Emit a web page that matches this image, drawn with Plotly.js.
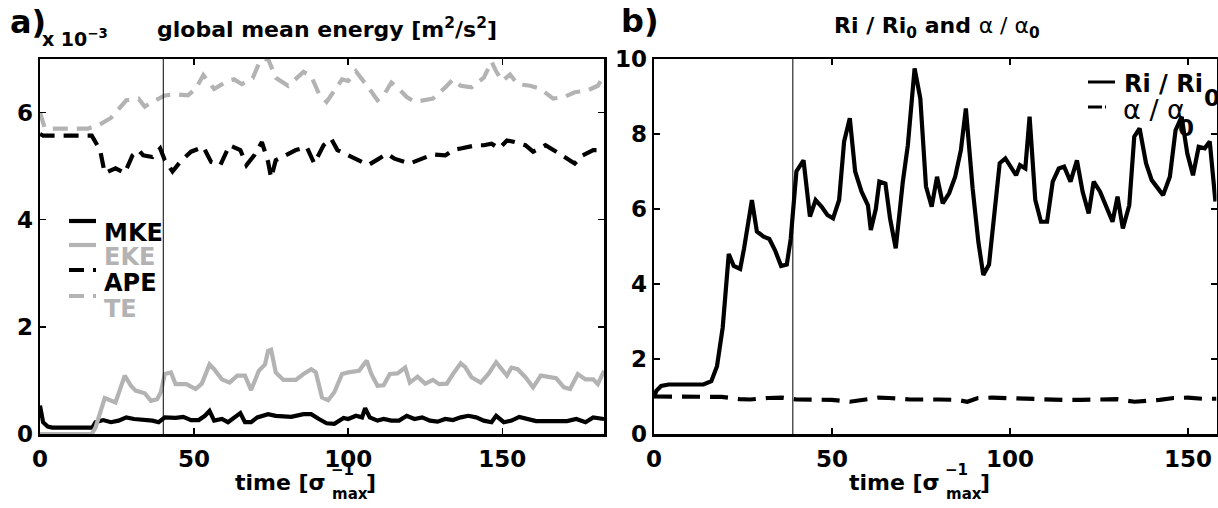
<!DOCTYPE html>
<html>
<head>
<meta charset="utf-8">
<script src="https://cdn.plot.ly/plotly-3.0.1.min.js"></script>
<style>html,body{margin:0;padding:0;background:#fff;}#chart{width:1218px;height:508px;}</style>
</head>
<body>
<div id="chart"></div>
<script>
// ---------- data (panel a: energies, units 1e-3 m^2/s^2) ----------
const mkeTime = [0,1,2.5,4,17,18,20.5,23,25.5,28,30.5,34,36.5,38.5,40.5,44,46.5,49,51.5,53.5,55,56.5,59,61,63,65,66.5,68.5,70.5,74,76.5,81.5,85.5,88,90.5,93,95.5,98.5,100,102.5,104.5,105.5,107,109.5,111.5,114,116.5,119,121.5,124,126.5,129,131.5,134,136.5,139,141.5,144,146.5,148,150.5,153,155.5,158,161,166,171,174,177,179.5,183];
const mkeVal = [0.53,0.22,0.14,0.12,0.12,0.22,0.26,0.22,0.25,0.31,0.28,0.27,0.25,0.22,0.31,0.30,0.32,0.26,0.26,0.34,0.43,0.25,0.28,0.22,0.31,0.39,0.22,0.22,0.31,0.37,0.34,0.32,0.37,0.37,0.28,0.20,0.19,0.30,0.28,0.34,0.31,0.48,0.31,0.25,0.28,0.25,0.25,0.34,0.28,0.31,0.25,0.23,0.28,0.26,0.31,0.34,0.31,0.25,0.22,0.34,0.22,0.25,0.32,0.28,0.24,0.24,0.24,0.28,0.22,0.31,0.28];

const ekeTime = [0,16.8,18,21,24.5,27.5,29.5,31,34,36,38,39.2,40.5,42.5,44,47.5,50.5,52.5,55,56.5,59,61.5,64,66.5,68.5,71,73,74,75,76.5,79,83,85.5,88,89.5,91.5,93.5,95.5,98,100,103.5,106,107.5,109.5,111.5,113.5,116,118.5,120,122.5,125,127.5,129.5,132,134,136.5,138,140,143,145.5,148,151.5,153,155,157.5,160,162.5,165,167.5,170,172,174.5,177,179.5,181,183];
const ekeVal = [0,0,0.12,0.67,0.59,1.09,0.90,0.81,0.76,0.62,0.65,0.78,1.12,1.15,0.93,0.93,0.84,0.94,1.30,1.21,1.02,0.96,1.09,1.09,0.82,1.18,1.30,1.55,1.57,1.15,1.01,1.01,1.12,1.21,1.15,0.68,0.63,0.78,1.12,1.15,1.18,1.37,1.12,0.90,0.91,1.12,1.13,1.24,0.96,1.07,0.94,1.01,0.93,0.94,1.12,1.32,1.25,1.06,0.96,1.12,1.34,1.09,1.24,1.21,1.06,0.87,1.09,1.06,1.04,0.87,0.84,1.12,1.02,1.02,0.93,1.18];

const apeTime = [0,1,16.8,18,19.5,21,24.5,27.5,30,32,33.5,36.5,39,40.5,43,45.5,49,53,55.5,58.5,61.5,65,67,69.5,72,74,75,76.5,79.5,83,86.5,89,92,94.5,96.5,100,104,106.5,110,112.5,115,120,124,127.5,131.5,134,136.5,139,141.5,144,146.5,149,151.5,154,157.5,160,164,167.5,171,173.5,176,179.5,183];
const apeVal = [5.6,5.57,5.57,5.45,5.30,4.87,4.96,4.87,5.20,5.30,5.20,5.17,5.33,5.11,4.90,5.08,5.27,5.36,5.08,5.02,5.39,5.30,5.02,5.20,5.45,5.08,4.78,5.11,5.20,5.30,5.36,5.05,5.39,5.51,5.30,5.20,5.08,5.02,5.14,5.23,5.14,5.05,5.14,5.22,5.20,5.30,5.33,5.36,5.39,5.39,5.42,5.33,5.48,5.45,5.39,5.27,5.39,5.27,5.14,5.05,5.20,5.30,5.30];

const teTime = [0,1.5,3,15.5,19.5,23,28,32,34,36.5,40.5,44,48,50.5,53,56.5,60.5,63,65.5,69,71.5,74,76.5,80.5,85.5,88,90.5,93,95.5,98,100,102.5,106.5,109.5,111.5,114,116.5,119,121.5,124,127.5,131.5,134,136.5,140,144,146.5,148,150,152.5,155,159,162.5,166.5,170,173.5,177.5,181,183];
const teVal = [6.0,5.72,5.70,5.70,5.78,5.90,6.23,6.26,6.11,6.20,6.32,6.34,6.32,6.44,6.70,6.44,6.58,6.62,6.53,6.64,6.98,7.0,6.65,6.50,6.76,6.68,6.35,6.20,6.41,6.62,6.59,6.77,6.47,6.23,6.32,6.56,6.44,6.29,6.20,6.23,6.26,6.47,6.62,6.50,6.47,6.65,6.95,6.77,6.59,6.71,6.53,6.50,6.44,6.26,6.29,6.38,6.41,6.50,6.70];

// ---------- data (panel b: Ri/Ri0 and alpha/alpha0) ----------
const riTime = [0,0.65,2,4.1,13.9,16.1,17.7,19.3,21,22.4,24.2,25.3,27.5,28.9,30.8,32.4,34,35.7,37.3,38.4,40,42,43.8,45.4,47.1,48.7,50.3,52,53.4,55,56.5,58.3,60.1,60.9,62.3,63.3,65,66.3,67.9,69.9,71.3,73.2,74.8,76.4,78,79.5,81.1,82.9,84.6,86.2,87.6,89.5,91.1,92.5,94.1,95.4,97.1,98.7,100.3,101.7,102.8,104.3,105.5,107.1,108.7,110.4,112,113.7,115.2,117,118.8,120.4,122.1,123.5,125.3,127.2,128.8,130.2,131.7,133.5,134.9,136.4,138.2,139.8,141.6,143,144.9,146.5,148.2,149.8,151.4,153,154.7,156.1,157.7];
const riVal = [0.97,1.15,1.28,1.32,1.32,1.41,1.81,2.84,4.80,4.48,4.40,4.95,6.24,5.40,5.26,5.20,4.90,4.48,4.52,5.20,7.00,7.30,5.80,6.24,6.06,5.84,5.75,6.24,7.80,8.42,7.00,6.46,6.10,5.44,6.00,6.73,6.68,5.75,4.95,6.73,7.70,9.75,8.95,6.60,6.06,6.86,6.15,6.42,6.86,7.57,8.68,6.55,5.13,4.24,4.52,5.75,7.22,7.35,7.08,6.90,7.17,7.08,8.46,6.24,5.66,5.66,6.73,7.08,7.13,6.73,7.30,6.46,5.88,6.73,6.46,6.00,5.66,6.33,5.48,6.10,7.93,8.15,7.22,6.77,6.55,6.37,6.86,8.10,8.46,7.48,6.90,7.66,7.62,7.80,6.20];

const alphaTime = [0,19,24,27,32,36,40,44,50,55,58,63,66,72,80,85,88,91,95,100,105,110,115,120,127,130,135,138,142,146,150,154,158];
const alphaVal = [1.0,0.99,0.93,0.92,0.96,0.97,0.92,0.92,0.91,0.86,0.90,0.97,0.96,0.92,0.92,0.91,0.86,0.96,0.97,0.95,0.94,0.91,0.91,0.91,0.94,0.93,0.86,0.87,0.91,0.96,0.97,0.94,0.94];

// marker times (thin vertical lines)
const markA = 40;
const markB = 39;

// tick labels
const xTicks = [0,50,100,150];
const yTicksA = [0,2,4,6];
const yTicksB = [0,2,4,6,8,10];

// ---------- styling ----------
const W = 1218, H = 508;
const GRAY = '#b3b3b3';
const FONT = 'DejaVu Sans';
const px = v => v / W;
const py = v => 1 - v / H;

const lw = 4.2;
const traces = [
  {x: mkeTime, y: mkeVal, xaxis:'x', yaxis:'y', mode:'lines', line:{color:'black', width:lw}},
  {x: ekeTime, y: ekeVal, xaxis:'x', yaxis:'y', mode:'lines', line:{color:GRAY, width:lw}},
  {x: apeTime, y: apeVal, xaxis:'x', yaxis:'y', mode:'lines', line:{color:'black', width:lw, dash:'15px,9px'}},
  {x: teTime, y: teVal, xaxis:'x', yaxis:'y', mode:'lines', line:{color:GRAY, width:lw, dash:'15px,9px'}},
  {x: riTime, y: riVal, xaxis:'x2', yaxis:'y2', mode:'lines', line:{color:'black', width:lw}},
  {x: alphaTime, y: alphaVal, xaxis:'x2', yaxis:'y2', mode:'lines', line:{color:'black', width:lw, dash:'18px,10px'}}
];

const tickFont = {family: FONT, size: 23, color: 'black', weight: 'bold'};
const axBase = {
  showline: true, linecolor: 'black', linewidth: 2.5, mirror: 'ticks',
  ticks: 'inside', ticklen: 6, tickwidth: 1.5, tickcolor: 'black',
  showgrid: false, zeroline: false, tickfont: tickFont, fixedrange: true
};

const yDom = [(H - 434) / H, (H - 59) / H];

const layout = {
  width: W, height: H,
  margin: {l:0, r:0, t:0, b:0, pad:0},
  paper_bgcolor: 'white', plot_bgcolor: 'white',
  showlegend: false,
  font: {family: FONT, color: 'black'},
  xaxis: Object.assign({}, axBase, {domain:[px(40), px(604)], range:[0,183], tickvals: xTicks, anchor:'y', ticklabelstandoff: 3}),
  yaxis: Object.assign({}, axBase, {domain:yDom, range:[0,7], tickvals: yTicksA, anchor:'x'}),
  xaxis2: Object.assign({}, axBase, {domain:[px(654), px(1216.5)], range:[0,158], tickvals: xTicks, anchor:'y2', ticklabelstandoff: 3}),
  yaxis2: Object.assign({}, axBase, {domain:yDom, range:[0,10], tickvals: yTicksB, anchor:'x2'}),
  shapes: [
    {type:'line', xref:'x', yref:'y domain', x0:markA, x1:markA, y0:0, y1:1, line:{color:'black', width:1}},
    {type:'line', xref:'x2', yref:'y2 domain', x0:markB, x1:markB, y0:0, y1:1, line:{color:'black', width:1}},
    // legend a
    {type:'line', xref:'paper', yref:'paper', x0:px(69), x1:px(96), y0:py(221), y1:py(221), line:{color:'black', width:lw}},
    {type:'line', xref:'paper', yref:'paper', x0:px(69), x1:px(96), y0:py(245), y1:py(245), line:{color:GRAY, width:lw}},
    {type:'line', xref:'paper', yref:'paper', x0:px(69), x1:px(96), y0:py(270), y1:py(270), line:{color:'black', width:lw, dash:'15px,9px'}},
    {type:'line', xref:'paper', yref:'paper', x0:px(69), x1:px(96), y0:py(296), y1:py(296), line:{color:GRAY, width:lw, dash:'15px,9px'}},
    // legend b
    {type:'line', xref:'paper', yref:'paper', x0:px(1088), x1:px(1115), y0:py(82), y1:py(82), line:{color:'black', width:3}},
    {type:'line', xref:'paper', yref:'paper', x0:px(1088), x1:px(1106), y0:py(107), y1:py(107), line:{color:'black', width:3, dash:'14px,3px'}}
  ],
  annotations: []
};

function ann(text, x, y, size, opts) {
  return Object.assign({
    text: text, xref:'paper', yref:'paper', x: px(x), y: py(y),
    xanchor:'left', yanchor:'middle', showarrow:false,
    font:{family:FONT, size:size, color:'black', weight:'bold'}
  }, opts || {});
}
const fontN = (size) => ({family:FONT, size:size, color:'black', weight:'normal'});
const fontG = (size) => ({family:FONT, size:size, color:GRAY, weight:'bold'});

const A = layout.annotations;
// panel labels
A.push(ann('a)', 8, 22, 32));
A.push(ann('b)', 619, 21, 32));
A.push(ann('x 10<sup>−3</sup>', 40, 38, 19));
// titles
A.push(ann('global mean energy [m<sup>2</sup>/s<sup>2</sup>]', 327, 28, 22, {xanchor:'center'}));
A.push(ann('<b>Ri / Ri<sub>0</sub> and </b>α / α<sub><b>0</b></sub>', 937, 27, 22, {xanchor:'center', font:fontN(22)}));
// legend a texts
A.push(ann('MKE', 102, 233, 24));
A.push(ann('EKE', 102, 257, 24, {font:fontG(24)}));
A.push(ann('APE', 102, 283, 24));
A.push(ann('TE', 102, 309, 24, {font:fontG(24)}));
// legend b texts (subscripts placed as in the reference)
A.push(ann('Ri / Ri', 1122, 84, 24));
A.push(ann('0', 1202, 98, 23));
A.push(ann('α / α', 1121, 109, 27, {font:fontN(27)}));
A.push(ann('0', 1176, 128, 23));
// x axis titles (time [sigma^-1_max])
function xTitle(cx) {
  const e = cx + 6;
  A.push(ann('time [σ', e, 482, 22, {xanchor:'right'}));
  A.push(ann('−1', e + 1, 470, 15));
  A.push(ann('max', e + 2, 494, 15));
  A.push(ann(']', e + 36, 482, 22));
}
xTitle(322);
xTitle(936);

Plotly.newPlot('chart', traces, layout, {displayModeBar:false, staticPlot:true});
</script>
</body>
</html>
